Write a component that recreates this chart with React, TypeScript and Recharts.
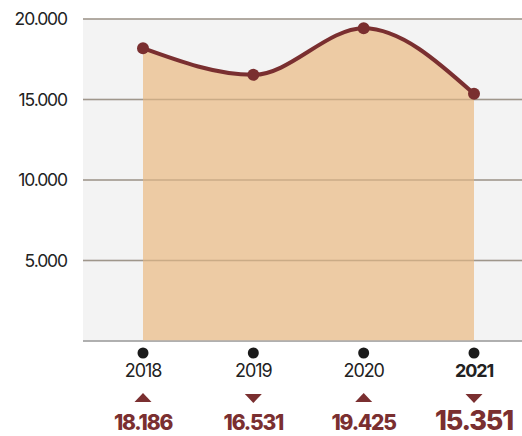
import {
  Area,
  CartesianGrid,
  ComposedChart,
  Line,
  ReferenceLine,
  XAxis,
  YAxis,
} from "recharts";

const YEARS = ["2018", "2019", "2020", "2021"];
const VALUES = [18186, 16531, 19425, 15351];
const TRENDS = ["up", "down", "up", "down"];
const Y_TICKS = [0, 5000, 10000, 15000, 20000];

const MAROON = "#7A2F30";
const FONT = "Inter, 'Noto Sans', sans-serif";

const data = YEARS.map((year, i) => ({
  year,
  value: VALUES[i],
  trend: TRENDS[i],
}));

const fmt = (v: number) =>
  String(Math.round(v)).replace(/\B(?=(\d{3})+(?!\d))/g, ".");

const YearTick = ({ x, y, payload, index }: any) => {
  const i = index ?? YEARS.indexOf(payload.value);
  const last = i === YEARS.length - 1;
  const up = TRENDS[i] === "up";
  const ty = y + 57;
  return (
    <g>
      <circle cx={x} cy={y + 12} r={5.5} fill="#1a1a1a" />
      <text
        x={x}
        y={y + 36}
        textAnchor="middle"
        fontFamily={FONT}
        fontSize={18}
        letterSpacing={-1.1}
        fontWeight={last ? 700 : 400}
        fill="#222"
      >
        {payload.value}
      </text>
      {up ? (
        <polygon
          points={`${x - 8.5},${ty + 4} ${x + 8.5},${ty + 4} ${x},${ty - 5}`}
          fill={MAROON}
        />
      ) : (
        <polygon
          points={`${x - 8.5},${ty - 4} ${x + 8.5},${ty - 4} ${x},${ty + 5}`}
          fill={MAROON}
        />
      )}
      <text
        x={x}
        y={y + 89}
        textAnchor="middle"
        fontFamily={FONT}
        fontSize={last ? 27 : 21}
        letterSpacing={-1.2}
        fontWeight={800}
        fill={MAROON}
      >
        {fmt(VALUES[i])}
      </text>
    </g>
  );
};

export default function App() {
  return (
    <div style={{ position: "absolute", left: 0, top: 0 }}>
      <ComposedChart
        width={522}
        height={436}
        data={data}
        margin={{ top: 19, right: 0, left: 0, bottom: 0 }}
      >
        <CartesianGrid
          vertical={false}
          fill="#F3F3F3"
          stroke="#ABABAB"
          strokeWidth={1.5}
        />
        <XAxis
          dataKey="year"
          height={95}
          padding={{ left: 60, right: 48 }}
          tickLine={false}
          tickSize={0}
          tickMargin={0}
          axisLine={{ stroke: "#ABABAB", strokeWidth: 1.5 }}
          tick={<YearTick />}
          interval={0}
        />
        <YAxis
          width={83}
          domain={[0, 20000]}
          ticks={Y_TICKS}
          tickFormatter={(v: number) => (v === 0 ? "" : fmt(v))}
          axisLine={false}
          tickLine={false}
          tickMargin={10}
          tick={{
            fill: "#222",
            fontSize: 17.5,
            fontFamily: FONT,
            letterSpacing: -1.1,
          }}
        />
        <Area
          type="monotone"
          dataKey="value"
          stroke="none"
          fill="#EDCBA4"
          fillOpacity={1}
          isAnimationActive={false}
        />
        {Y_TICKS.slice(1).map((t) => (
          <ReferenceLine
            key={t}
            y={t}
            stroke="#8a7050"
            strokeOpacity={0.35}
            strokeWidth={1.5}
          />
        ))}
        <Line
          type="monotone"
          dataKey="value"
          stroke={MAROON}
          strokeWidth={4}
          dot={{ r: 6, fill: MAROON, stroke: MAROON, strokeWidth: 0 }}
          activeDot={false}
          isAnimationActive={false}
        />
      </ComposedChart>
    </div>
  );
}
